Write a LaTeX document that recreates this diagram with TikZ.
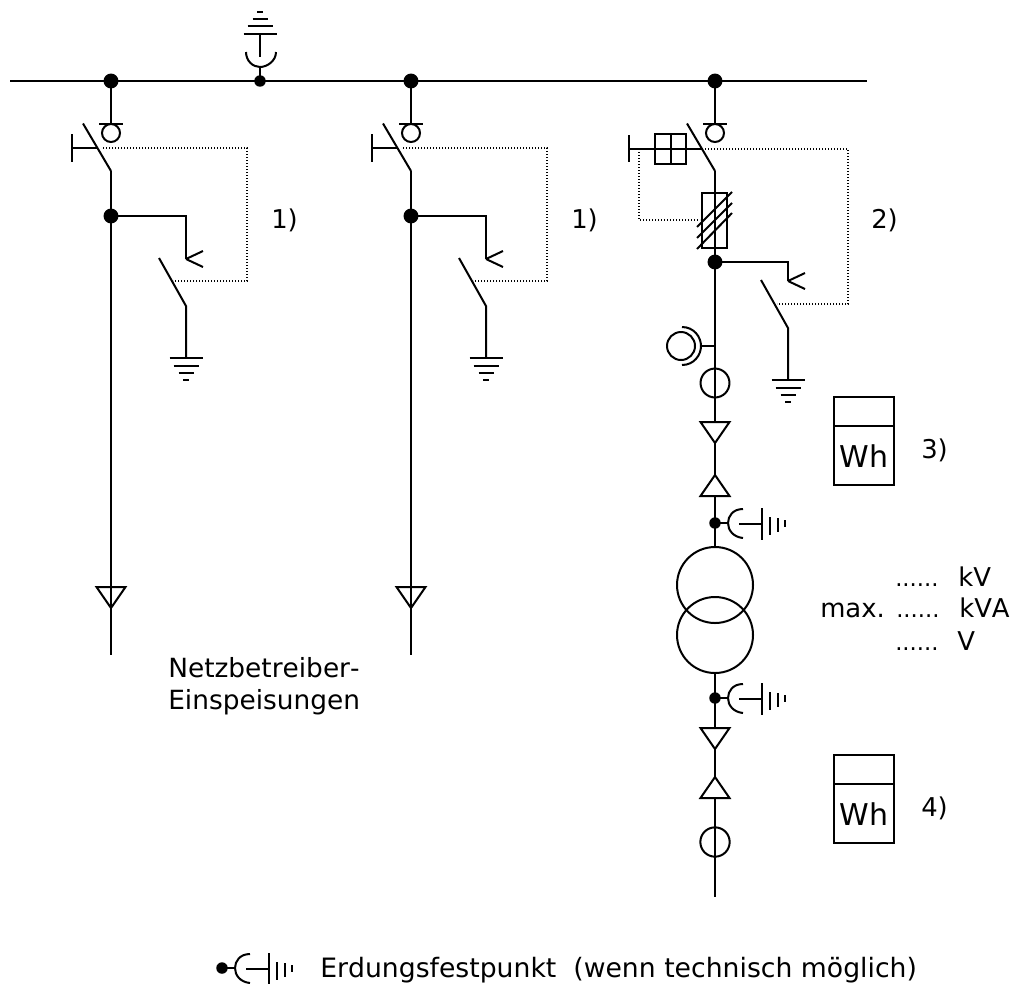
\documentclass[tikz,border=0pt]{standalone}
\usepackage{fontspec}
\setmainfont{DejaVu Sans}[Kerning=Off]
\tikzset{
  wire/.style={line width=1.5pt,line cap=butt,line join=miter},
  thin wire/.style={line width=1.5pt},
  dotline/.style={line width=1.1pt,dash pattern=on 1.1pt off 1.15pt},
  junction/.style={circle,fill=black,draw=none,inner sep=0pt,minimum size=11.2pt},
  small junction/.style={circle,fill=black,draw=none,inner sep=0pt,minimum size=8.6pt},
  label text/.style={inner sep=0pt,font=\fontsize{19.4}{24}\selectfont},
  dots text/.style={inner sep=0pt,font=\fontsize{17}{24}\selectfont},
  caption text/.style={inner sep=0pt,font=\fontsize{19.8}{24}\selectfont},
  legend text/.style={inner sep=0pt,font=\fontsize{20}{24}\selectfont},
  meter text/.style={inner sep=0pt,font=\fontsize{22.5}{26}\selectfont},
  earthsym/.pic={
    \draw[wire] (-16.5,0)--(16.5,0) (-12.5,8)--(12.5,8) (-7.5,15)--(7.5,15) (-3,22)--(3,22);
  },
  sealsym/.pic={
    \draw[wire] (-12,0)--(12,0);
    \draw[thin wire] (0,9.5) circle[radius=9];
  },
  capsym/.pic={
    \draw[thin wire] (28,-14) .. controls (18,-14) and (13,-7) .. (13,0) .. controls (13,7) and (18,14) .. (28,15);
    \draw[thin wire] (0,0)--(13,0) (24,1)--(47,1);
    \draw[wire] (47,-15)--(47,17) (55,-6)--(55,12) (63,-5)--(63,9) (70,-3)--(70,4);
  },
  cabledown/.pic={\draw[thin wire] (-14.5,0)--(14.5,0)--(0,21)--cycle;},
  cableup/.pic={\draw[thin wire] (-14.5,0)--(14.5,0)--(0,-21)--cycle;},
  meterbox/.pic={
    \draw[thin wire] (0,0) rectangle (60,88) (0,29)--(60,29);
    \node[meter text] (-wh) at (30,59) {Wh};
  },
  disconnector/.pic={
    \draw[wire] (-28,-47.5)--(0,0);
  },
  earthswitch/.pic={
    \draw[wire] (0,0)--(17,-8) (0,0)--(17,8);
    \draw[wire] (-27,-1)--(0,47)--(0,99);
    \path (0,99) pic {earthsym};
  },
}
\begin{document}
\begin{tikzpicture}[x=0.75pt,y=-0.75pt]
\useasboundingbox (0,0) rectangle (1012,983);
% junctions
\coordinate (busL) at (10,81);
\coordinate (busR) at (867,81);
\node[junction] (j1) at (111,81) {};
\node[small junction] (j0) at (260,81) {};
\node[junction] (j2) at (411,81) {};
\node[junction] (j3) at (715,81) {};
\draw[wire] (busL)--(busR);
% surge arrester at top
\draw[wire] (j0.center)--(260,67);
\draw[wire] (246,52) .. controls (246,61) and (253,67) .. (260,67) .. controls (267,67) and (276,61) .. (276,52);
\draw[wire] (260,33.5)--(260,57);
\path (260,33.5) pic[yscale=-1] {earthsym};
% feeders 1 and 2
\foreach \fx/\fj/\fk in {111/j1/a,411/j2/b}{
  \begin{scope}[shift={(\fx,0)}]
    \node[junction] (t\fk) at (0,216) {};
    \coordinate (bot\fk) at (0,655);
    \draw[wire] (\fj.center)--(0,123);
    \path (0,123.5) pic {sealsym};
    \path (0,171) pic {disconnector};
    \draw[wire] (0,171)--(t\fk.center);
    \draw[wire] (t\fk.center)--(bot\fk);
    \draw[wire] (-39,134)--(-39,162) (-39,148)--(-13,148);
    \draw[dotline] (-8,148)--(136,148)--(136,281)--(62,281);
    \coordinate (c\fk) at (75,259);
    \draw[wire] (t\fk.center)--(75,216)--(c\fk);
    \path (c\fk) pic {earthswitch};
    \path (0,587) pic {cabledown};
    \node[label text,anchor=base west] (lab\fk) at (160,228) {1)};
  \end{scope}
}
% feeder 3
\node[junction] (t3) at (715,262) {};
\coordinate (top3) at (715,171);
\draw[wire] (j3.center)--(715,123);
\path (715,123.5) pic {sealsym};
\path (top3) pic {disconnector};
\draw[wire] (top3)--(t3.center);
\draw[wire] (629,135)--(629,162) (629,149)--(702,149);
\draw[wire] (655,134) rectangle (686,164);
\draw[wire] (670.5,134)--(670.5,164);
\draw[dotline] (705,149)--(848,149)--(848,304)--(777,304);
\draw[dotline] (639,149)--(639,220)--(700,220);
\draw[thin wire] (702,193) rectangle (727,248);
\draw[thin wire] (697,227)--(732,192) (697,238)--(732,203) (697,249)--(732,213);
\coordinate (c3) at (788,281);
\draw[wire] (t3.center)--(788,262)--(c3);
\path (c3) pic {earthswitch};
\draw[wire] (t3.center)--(715,422);
% current transformer, side
\node[circle,draw,thin wire,inner sep=0pt,minimum size=21pt] (ctb) at (681,346) {};
\draw[thin wire] (682,327) .. controls (694,327) and (701,337) .. (701,346) .. controls (701,355) and (694,365) .. (682,365);
\draw[thin wire] (701,346)--(715,346);
\node[circle,draw,thin wire,inner sep=0pt,minimum size=21.7pt] (ct1) at (715,383) {};
\path (715,422) pic {cabledown};
\path (715,496) pic {cableup};
\draw[thin wire] (715,443)--(715,475);
% transformer
\node[small junction] (up) at (715,523) {};
\node[small junction] (lo) at (715,698) {};
\node[circle,draw,thin wire,inner sep=0pt,minimum size=57pt] (tr1) at (715,585) {};
\node[circle,draw,thin wire,inner sep=0pt,minimum size=57pt] (tr2) at (715,635) {};
\draw[thin wire] (715,496)--(up.center)--(tr1.north);
\draw[thin wire] (tr2.south)--(lo.center)--(715,728);
\path (up.center) pic {capsym};
\path (lo.center) pic {capsym};
\path (715,728) pic {cabledown};
\path (715,798) pic {cableup};
\draw[thin wire] (715,749)--(715,777);
\node[circle,draw,thin wire,inner sep=0pt,minimum size=22pt] (ct2) at (715,842) {};
\coordinate (end3) at (715,897);
\draw[thin wire] (715,798)--(end3);
% meters
\path (834,397) pic {meterbox};
\path (834,755) pic {meterbox};
% labels
\node[label text,anchor=base west] (l2) at (871,228) {2)};
\node[label text,anchor=base west] (l3) at (921,458) {3)};
\node[label text,anchor=base west] (l4) at (921,816) {4)};
\node[dots text,anchor=base west] (d1) at (895,586) {......};
\node[label text,anchor=base west] (u1) at (958,586) {kV};
\node[label text,anchor=base west] (mx) at (820,617) {max.};
\node[dots text,anchor=base west] (d2) at (896,617) {......};
\node[label text,anchor=base west] (u2) at (959,617) {kVA};
\node[dots text,anchor=base west] (d3) at (895,650) {......};
\node[label text,anchor=base west] (u3) at (957,650) {V};
\node[caption text,anchor=base west] (n1) at (168,677) {Netzbetreiber-};
\node[caption text,anchor=base west] (n2) at (168,709) {Einspeisungen};
% legend
\node[small junction] (lg) at (222,968) {};
\path (lg.center) pic {capsym};
\node[legend text,anchor=base west] (lt) at (320,977) {Erdungsfestpunkt\ \ (wenn technisch möglich)};
\end{tikzpicture}
\end{document}
